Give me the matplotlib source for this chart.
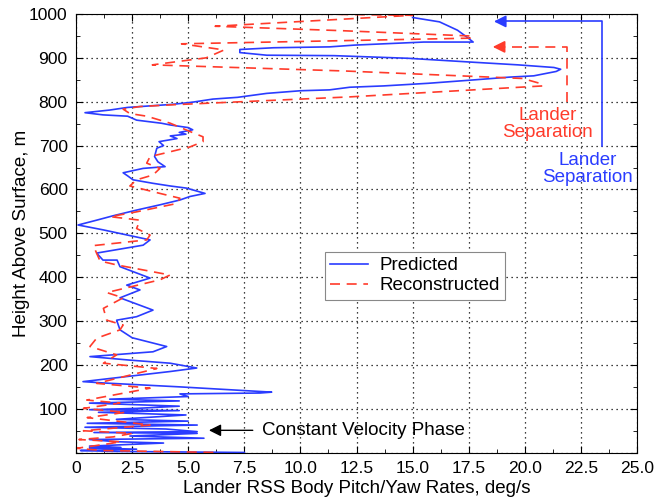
import numpy as np
import matplotlib.pyplot as plt
from matplotlib.ticker import MultipleLocator, FuncFormatter

plt.rcParams['font.family'] = ['Liberation Sans', 'DejaVu Sans']

# predicted body rates (deg/s) vs height (m)
pred_rate = [15.0, 16.2, 17.0, 17.4, 17.7, 15.5, 12.4, 11.3, 8.8, 7.3, 7.3, 8.5, 11.5,
             14.8, 17.7, 19.7, 21.3, 21.6, 21.4, 20.4, 19.3, 17.8, 15.7, 13.7, 12.2,
             11.3, 10.0, 8.5, 7.2, 6.1, 5.2, 4.3, 2.3, 1.5, 0.4, 1.2, 2.3, 2.7, 3.8,
             4.2, 5.0, 5.2, 4.6, 4.9, 4.2, 4.5, 3.7, 3.9, 3.6, 3.5, 3.65, 3.97, 2.99,
             2.1, 2.3, 2.54, 3.43, 4.19, 4.93, 5.75, 5.08, 4.63, 3.74, 2.7, 1.65,
             0.92, 0.09, 1.2, 3.3, 2.99, 0.92, 1.2, 1.83, 1.96, 3.3, 2.26, 2.85,
             1.96, 3.43, 2.7, 1.81, 1.96, 2.5, 4.04, 3.43, 0.62, 2.4, 4.19, 5.38,
             4.19, 0.31, 1.2, 4.63, 8.72, 8.2, 4.63, 5.0, 1.5, 4.6, 0.6, 4.6, 2.7,
             0.6, 4.6, 1.0, 4.9, 1.8, 5.0, 0.5, 5.4, 0.4, 4.0, 5.4, 0.8, 5.4, 2.4,
             5.7, 0.6, 1.8, 3.9, 0.6, 2.0, 0.6, 2.7, 0.2, 1.5, 7.5]
pred_alt = [992, 982, 963, 948, 936, 936, 929, 925, 923, 919, 912, 906, 905,
            899, 890, 884, 878, 874, 869, 859, 856, 850, 842, 836, 833,
            827, 825, 819, 810, 806, 799, 794, 787, 781, 775, 770, 767, 758, 751,
            747, 741, 736, 730, 726, 722, 716, 709, 700, 694, 675, 663, 652, 648,
            638, 631, 622, 614, 608, 603, 591, 584, 576, 565, 553, 540,
            530, 519, 508, 485, 473, 455, 439, 439, 424, 398, 382, 371,
            353, 325, 310, 302, 280, 262, 242, 230, 219, 211, 204, 193,
            185, 162, 159, 150, 138, 136, 134, 128, 122, 118, 113, 106, 101,
            98, 96, 92, 86, 76, 72, 67, 63, 58, 54, 48, 46, 44, 38,
            33, 30, 25, 22, 15, 12, 11, 8, 5, 3, 0.5]

# reconstructed body rates (deg/s) vs height (m)
recon_rate = [10.2, 15.0, 6.2, 11.8, 17.5, 17.7, 4.7, 6.6, 5.8, 3.4, 12.0, 19.9,
              20.8, 20.8, 12.2, 4.3, 2.85, 2.1, 2.4, 3.15, 4.2, 5.08, 5.66, 5.66,
              5.08, 3.88, 3.3, 3.15, 3.74, 3.43, 2.7, 2.4, 3.74, 4.63, 4.49, 2.7,
              1.52, 2.85, 2.7, 3.3, 3.15, 0.77, 1.07, 1.81, 4.19, 3.74, 1.37, 2.1,
              1.22, 1.37, 2.1, 1.96, 0.92, 0.62, 1.81, 1.22, 3.6, 0.92, 2.7, 3.3,
              0.48, 1.96, 0.33, 2.2, 0.5, 3.3, 0.33, 2.5, 1.66, 0.13, 2.0, 1.4,
              0.03, 1.2, 6.3]
recon_alt = [1000, 997, 972, 962, 950, 945, 932, 918, 900, 884, 870, 853,
             840, 836, 811, 793, 789, 783, 773, 767, 751, 732, 720, 709,
             697, 682, 675, 660, 648, 633, 622, 608, 591, 580, 568, 549,
             538, 530, 511, 496, 485, 472, 437, 428, 405, 394, 365, 353,
             329, 302, 291, 280, 261, 242, 223, 204, 192, 158, 150, 147,
             120, 113, 101, 92, 80, 63, 50, 44, 36, 30, 25, 20,
             10, 5, 0.5]

blue = '#2a3cff'
red = '#ff3b2b'

fig = plt.figure(figsize=(6.64, 4.99), dpi=100)
ax = fig.add_axes([0.1145, 0.0928, 0.8448, 0.8792])

ax.plot(pred_rate, pred_alt, color=blue, lw=1.2, label='Predicted')
ax.plot(recon_rate, recon_alt, color=red, lw=1.2, ls=(0, (6, 4)), label='Reconstructed')

ax.set_xlim(0, 25)
ax.set_ylim(0, 1000)
ax.xaxis.set_major_locator(MultipleLocator(2.5))
ax.xaxis.set_minor_locator(MultipleLocator(1.25))
ax.yaxis.set_major_locator(MultipleLocator(100))
ax.yaxis.set_minor_locator(MultipleLocator(50))
ax.xaxis.set_major_formatter(FuncFormatter(lambda v, p: '0' if v == 0 else f'{v:.1f}'))
ax.yaxis.set_major_formatter(FuncFormatter(lambda v, p: '' if v == 0 else f'{v:.0f}'))
ax.tick_params(which='both', direction='in', top=True, right=True, labelsize=12.6, pad=6)
ax.tick_params(which='major', length=5)
ax.tick_params(which='minor', length=3)
ax.grid(True, which='major', color='black', ls=(0, (1, 3)), lw=0.9)

ax.set_xlabel('Lander RSS Body Pitch/Yaw Rates, deg/s', fontsize=13.5, labelpad=3)
ax.set_ylabel('Height Above Surface, m', fontsize=13.5, labelpad=-1)

# separation markers
ax.plot([23.45, 23.45, 19.0], [699, 983, 983], color=blue, lw=1.2)
ax.annotate('', xy=(18.5, 983), xytext=(19.2, 983),
            arrowprops=dict(arrowstyle='-|>', color=blue, lw=1.2, mutation_scale=18))
ax.text(22.8, 647, 'Lander\nSeparation', color=blue, fontsize=13.5,
        ha='center', va='center', linespacing=0.95)

ax.plot([21.9, 21.9, 19.0], [800, 925, 925], color=red, lw=1.2, ls=(0, (6, 4)))
ax.annotate('', xy=(18.45, 925), xytext=(19.2, 925),
            arrowprops=dict(arrowstyle='-|>', color=red, lw=1.2, mutation_scale=18))
ax.text(21.0, 749, 'Lander\nSeparation', color=red, fontsize=13.5,
        ha='center', va='center', linespacing=0.95)

ax.annotate('', xy=(5.8, 51), xytext=(8.0, 51),
            arrowprops=dict(arrowstyle='-|>', color='black', lw=1.0, mutation_scale=18))
ax.text(8.3, 51, 'Constant Velocity Phase', fontsize=13.5, va='center')

leg = ax.legend(loc='center', bbox_to_anchor=(0.604, 0.403), fontsize=13.5,
                fancybox=False, framealpha=1, edgecolor='#888888',
                handlelength=2.0, handletextpad=0.6, borderpad=0.3, labelspacing=0.15)
leg.get_frame().set_linewidth(0.8)

fig.savefig('out.png', dpi=100)
